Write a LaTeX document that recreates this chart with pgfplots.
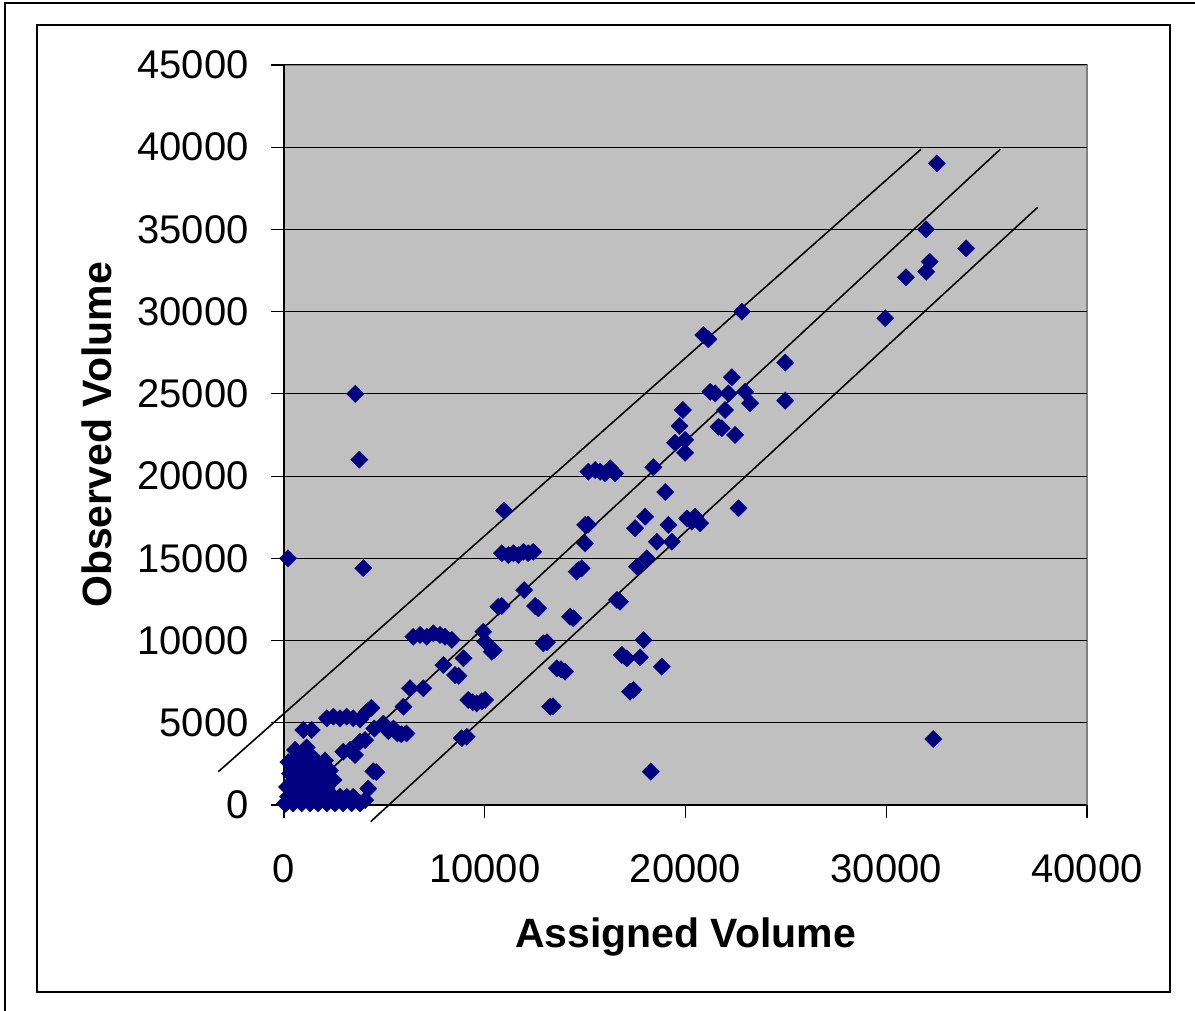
\documentclass[border=0pt]{standalone}
\usepackage{pgfplots}
\pgfplotsset{compat=1.18}
\usepackage{pgfplotstable}
\usepackage{fontspec}
\setmainfont{Liberation Sans}

\definecolor{plotgray}{RGB}{192,192,192}
\definecolor{bordergray}{RGB}{128,128,128}
\definecolor{navymark}{RGB}{0,0,128}

\pgfplotstableread{
x y
200 15000
3550 25000
3750 21000
3950 14400
50 100
450 100
880 100
1300 100
1700 100
2130 100
2540 100
2950 100
3370 100
3790 100
4040 300
2460 500
2790 500
3120 500
3450 500
550 3350
1130 3500
220 2600
700 3000
1000 2900
1350 3000
1600 2700
2040 2700
450 2300
800 2400
1200 2300
1600 2200
1900 2300
2290 2100
300 1900
700 1800
1100 1900
1500 1700
1900 1600
500 1400
900 1300
1300 1200
1700 1100
2100 1000
150 1100
500 800
900 700
1300 600
1700 600
200 500
600 400
1000 300
2460 1520
960 4560
1380 4560
2130 5270
2460 5370
2790 5270
3120 5370
3450 5270
3790 5210
4150 5700
4350 5900
2950 3240
3290 3350
3540 3040
3790 3850
4040 3950
4450 2050
4600 2000
4200 1000
4500 4650
4950 4950
5200 4500
5450 4650
5650 4350
5850 4300
6100 4350
5950 5980
6280 7100
6940 7100
6440 10230
6780 10340
7110 10230
7440 10440
7770 10340
8020 10230
8360 10040
7940 8510
8520 7900
8700 7850
8940 8920
8850 4060
9100 4150
9180 6390
9400 6250
9600 6180
9850 6300
10020 6390
10960 17900
10850 15310
11180 15200
11430 15310
11680 15200
11930 15400
12170 15310
12420 15400
11960 13070
10680 12060
10850 12100
12510 12100
12670 11960
9930 10540
10020 9930
10350 9320
10450 9400
12920 9830
13100 9900
13590 8310
13800 8250
14000 8110
13260 5980
13400 6000
14250 11450
14420 11350
14580 14190
14670 14290
14830 14390
15000 15910
15000 17030
15150 17050
15160 20270
15500 20370
15750 20270
16000 20170
16250 20480
16490 20170
16580 12470
16740 12360
16830 9120
17080 8920
17240 6890
17410 6990
17490 16830
17580 14490
17740 8980
17910 10030
17990 17530
18070 15000
18270 2030
18400 20540
18570 16010
18820 8410
18990 19030
19150 17030
19320 16010
19480 22030
19700 23050
19870 24020
19980 22200
19980 21420
20070 17430
20320 17230
20480 17530
20730 17130
20890 28580
21140 28320
21230 25130
21480 25030
21640 23000
21810 22910
21970 24020
22140 25030
22310 26010
22470 22500
22640 18040
22810 30000
22970 25130
23220 24430
24970 26900
24970 24590
29950 29600
30980 32090
31990 32430
32160 33040
31980 35010
32520 39020
33980 33850
32340 4010
}\obsdata

% the three guide lines, end points
\pgfplotstableread{
x y
-3272 2025
31731 39875
}\upperline
\pgfplotstableread{
x y
50 -426
35681 39875
}\middleline
\pgfplotstableread{
x y
4319 -1015
37544 36347
}\lowerline

\begin{document}
\begin{tikzpicture}[x=1pt,y=1pt]
\path[use as bounding box] (0,0) rectangle (597.5,505.5);
\draw[line width=1.2pt] (2.5,0) -- (2.5,504) -- (597.5,504);
\draw[line width=0.65pt] (18.5,9.5) rectangle (585,493);
\begin{axis}[
  at={(142pt,103pt)}, anchor=south west,
  scale only axis, width=401.5pt, height=370pt,
  xmin=0, xmax=40000, ymin=0, ymax=45000,
  clip=false,
  xtick={0,10000,...,40000},
  ytick={0,5000,...,45000},
  axis background/.style={fill=plotgray, draw=bordergray, line width=1pt},
  axis lines=left,
  axis line style={-, black, line width=0.6pt},
  tick align=outside,
  major tick length=6.5pt,
  tick style={black, line width=0.6pt},
  ymajorgrids,
  grid style={black, line width=0.5pt},
  scaled ticks=false,
  /pgf/number format/1000 sep={},
  /pgf/number format/assume math mode=true,
  ticklabel style={font=\fontsize{20}{24}\selectfont},
  yticklabel style={anchor=east, inner sep=0pt, xshift=-11pt},
  xticklabel style={anchor=base, inner sep=0pt, yshift=-32.5pt},
  label style={font=\bfseries\fontsize{20.5}{24}\selectfont},
  xlabel={Assigned Volume},
  ylabel={Observed Volume},
  xlabel style={at={(axis description cs:0.5,-0.192)}, anchor=base},
  ylabel style={at={(axis description cs:-0.2154,0.5)}, anchor=base},
]
\addplot[only marks, mark=square*, mark size=3pt,
  mark options={rotate=45, fill=navymark, draw=navymark, line width=0.3pt}]
  table {\obsdata};
\addplot[black, line width=0.8pt, no markers] table {\upperline};
\addplot[black, line width=0.8pt, no markers] table {\middleline};
\addplot[black, line width=0.8pt, no markers] table {\lowerline};
\end{axis}
\end{tikzpicture}
\end{document}
